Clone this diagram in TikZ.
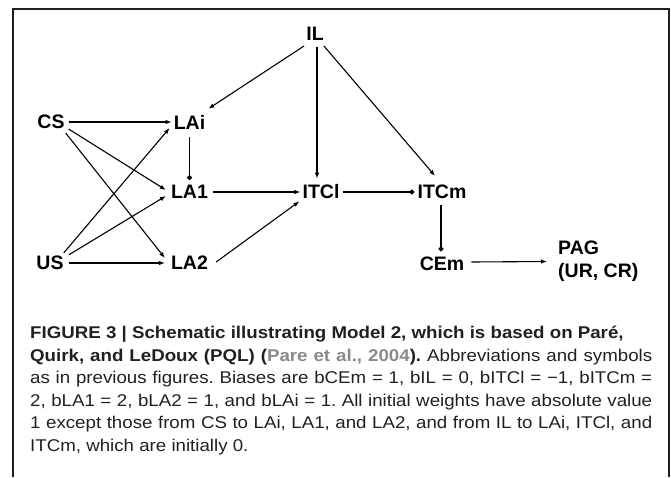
\documentclass[tikz,border=0pt]{standalone}
\usepackage{fontspec}
\setmainfont{Liberation Sans}
\newfontfamily\capfont{Liberation Sans}[FakeStretch=1.1]
\usetikzlibrary{arrows.meta}
\definecolor{captext}{HTML}{231F20}
\definecolor{citegray}{HTML}{8A8A8A}

\begin{document}
\begin{tikzpicture}[x=1pt,y=-1pt,
    unit/.style={font=\fontsize{19.5}{23}\selectfont\bfseries, inner sep=0pt},
    excite/.style={-{Latex[length=6pt,width=4.5pt]}, line width=1.1pt},
    inhibit/.style={-{Circle[length=5pt]}, line width=1.1pt}]

    \useasboundingbox (0,0) rectangle (671,477);

    % Frame round the figure
    \draw[line width=2pt, captext] (12.7,477) -- (12.7,8.5) -- (668.5,8.5) -- (668.5,477);

    % Define the units
    \node[unit] (IL) at (315,34) {IL};
    \node[unit] (CS) at (51,122) {CS};
    \node[unit] (LAi) at (189.5,122) {LAi};
    \node[unit] (LA1) at (189.5,192) {LA1};
    \node[unit] (ITCl) at (321,192) {ITCl};
    \node[unit] (ITCm) at (442,192) {ITCm};
    \node[unit] (US) at (50,263) {US};
    \node[unit] (LA2) at (189.5,263) {LA2};
    \node[unit] (CEm) at (442,264) {CEm};
    \node[unit, align=left, anchor=west] (PAG) at (558,261.5) {PAG\\(UR, CR)};

    % Inputs to the lateral amygdala
    \draw[excite] ([xshift=4pt]CS.east) -- ([xshift=-2pt]LAi.west);
    \draw[excite] ([xshift=4pt]CS.south east) -- ([xshift=-5pt,yshift=2pt]LA1.west);
    \draw[excite] ([xshift=1pt,yshift=-4pt]CS.south east) -- ([xshift=-6pt,yshift=5pt]LA2.west);
    \draw[excite] ([yshift=3pt]US.north east) -- ([xshift=-4pt,yshift=-6pt]LAi.west);
    \draw[excite] ([xshift=5pt,yshift=1pt]US.north east) -- ([xshift=-5pt,yshift=-4pt]LA1.west);
    \draw[excite] ([xshift=5pt]US.east) -- ([xshift=-6pt]LA2.west);

    % Inputs from IL
    \draw[excite] ([xshift=-2pt,yshift=-5pt]IL.south west) -- ([xshift=3pt,yshift=6pt]LAi.north east);
    \draw[excite] ([xshift=2pt,yshift=-6pt]IL.south) -- ([xshift=-4pt,yshift=6pt]ITCl.north);
    \draw[excite] ([yshift=-5pt]IL.south east) -- ([xshift=-7pt,yshift=9pt]ITCm.north);

    % Lateral amygdala to ITC and on to CEm
    \draw[inhibit] ([yshift=-8pt]LAi.south) -- ([yshift=5pt]LA1.north);
    \draw[excite] ([xshift=5pt]LA1.east) -- ([xshift=-2pt]ITCl.west);
    \draw[excite] ([xshift=8pt,yshift=1pt]LA2.east) -- ([xshift=-3pt,yshift=-2pt]ITCl.south west);
    \draw[inhibit] ([xshift=3pt]ITCl.east) -- ([xshift=-3pt]ITCm.west);
    \draw[inhibit] ([xshift=-1pt,yshift=-6pt]ITCm.south) -- ([xshift=-1pt,yshift=5.5pt]CEm.north);
    \draw[excite] ([xshift=7pt,yshift=2pt]CEm.east) -- ([xshift=-11pt]PAG.west);

    % Caption
    \node[anchor=north west, inner sep=0pt, text width=622pt, align=justify,
          font=\capfont\fontsize{17}{22.5}\selectfont\frenchspacing, text=captext] (caption) at (30,326)
    {{\bfseries FIGURE 3 | Schematic illustrating Model 2, which is based on Paré,\\
     Quirk, and LeDoux (PQL) ({\color{citegray}Pare et al., 2004}).} Abbreviations and symbols\linebreak
     as in previous figures. Biases are bCEm = 1, bIL = 0, bITCl = −1, bITCm =\linebreak
     2, bLA1 = 2, bLA2 = 1, and bLAi = 1. All initial weights have absolute value\linebreak
     1 except those from CS to LAi, LA1, and LA2, and from IL to LAi, ITCl, and\linebreak
     ITCm, which are initially 0.};

\end{tikzpicture}
\end{document}
